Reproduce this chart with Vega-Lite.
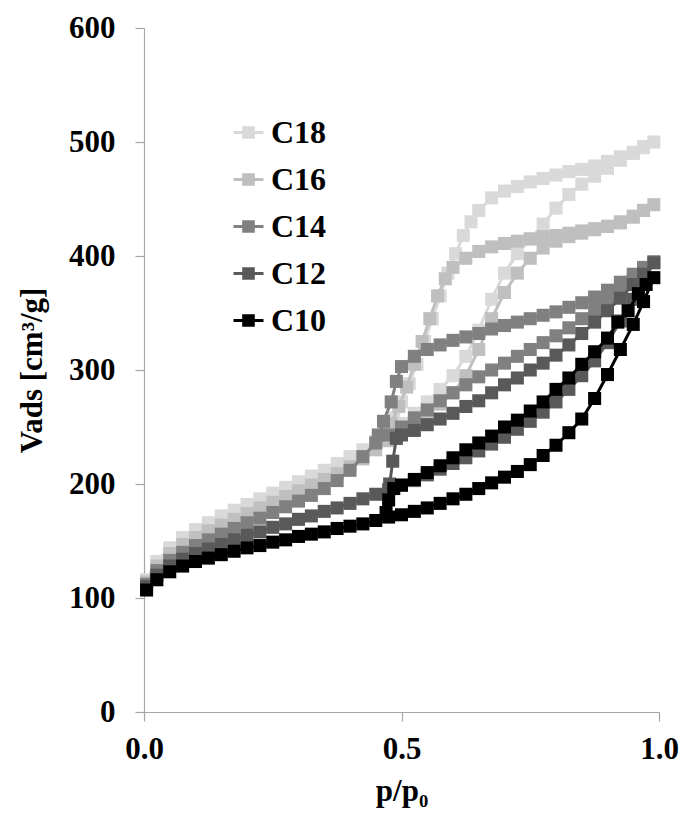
{
"$schema":"https://vega.github.io/schema/vega-lite/v6.json",
"width":515,"height":684,
"autosize":"none",
"padding":{"left":144,"top":28,"right":22,"bottom":104},
"background":"white",
"config":{"view":{"stroke":null},"font":"Liberation Serif",
"axis":{"grid":false,"domainColor":"#a6a6a6","tickColor":"#a6a6a6","domainWidth":1.2,"tickWidth":1.2,"tickSize":9,"labelFont":"Liberation Serif","labelFontWeight":"bold","labelFontSize":31,"labelColor":"black","titleFont":"Liberation Serif","titleFontWeight":"bold","titleFontSize":31,"titleColor":"black"}},
"datasets":{"d":[
{"s":"C10","i":0,"x":0.005,"y":107},{"s":"C10","i":1,"x":0.025,"y":116},{"s":"C10","i":2,"x":0.05,"y":123},{"s":"C10","i":3,"x":0.075,"y":128},{"s":"C10","i":4,"x":0.1,"y":132},{"s":"C10","i":5,"x":0.125,"y":135},{"s":"C10","i":6,"x":0.15,"y":138},{"s":"C10","i":7,"x":0.175,"y":141},{"s":"C10","i":8,"x":0.2,"y":144},{"s":"C10","i":9,"x":0.225,"y":146},{"s":"C10","i":10,"x":0.25,"y":149},{"s":"C10","i":11,"x":0.275,"y":151},{"s":"C10","i":12,"x":0.3,"y":154},{"s":"C10","i":13,"x":0.325,"y":156},{"s":"C10","i":14,"x":0.35,"y":158},{"s":"C10","i":15,"x":0.375,"y":161},{"s":"C10","i":16,"x":0.4,"y":163},{"s":"C10","i":17,"x":0.425,"y":165},{"s":"C10","i":18,"x":0.45,"y":168},{"s":"C10","i":19,"x":0.475,"y":171},{"s":"C10","i":20,"x":0.5,"y":173},{"s":"C10","i":21,"x":0.525,"y":176},{"s":"C10","i":22,"x":0.55,"y":179},{"s":"C10","i":23,"x":0.575,"y":183},{"s":"C10","i":24,"x":0.6,"y":187},{"s":"C10","i":25,"x":0.625,"y":191},{"s":"C10","i":26,"x":0.65,"y":196},{"s":"C10","i":27,"x":0.675,"y":201},{"s":"C10","i":28,"x":0.7,"y":206},{"s":"C10","i":29,"x":0.725,"y":211},{"s":"C10","i":30,"x":0.75,"y":217},{"s":"C10","i":31,"x":0.775,"y":225},{"s":"C10","i":32,"x":0.8,"y":234},{"s":"C10","i":33,"x":0.825,"y":245},{"s":"C10","i":34,"x":0.85,"y":257},{"s":"C10","i":35,"x":0.875,"y":275},{"s":"C10","i":36,"x":0.9,"y":296},{"s":"C10","i":37,"x":0.925,"y":318},{"s":"C10","i":38,"x":0.95,"y":340},{"s":"C10","i":39,"x":0.97,"y":360},{"s":"C10","i":40,"x":0.99,"y":381},
{"s":"C10","i":41,"x":0.975,"y":375},{"s":"C10","i":42,"x":0.96,"y":367},{"s":"C10","i":43,"x":0.94,"y":352},{"s":"C10","i":44,"x":0.92,"y":342},{"s":"C10","i":45,"x":0.9,"y":328},{"s":"C10","i":46,"x":0.875,"y":316},{"s":"C10","i":47,"x":0.85,"y":305},{"s":"C10","i":48,"x":0.825,"y":293},{"s":"C10","i":49,"x":0.8,"y":283},{"s":"C10","i":50,"x":0.775,"y":272},{"s":"C10","i":51,"x":0.75,"y":264},{"s":"C10","i":52,"x":0.725,"y":256},{"s":"C10","i":53,"x":0.7,"y":250},{"s":"C10","i":54,"x":0.675,"y":242},{"s":"C10","i":55,"x":0.65,"y":236},{"s":"C10","i":56,"x":0.625,"y":230},{"s":"C10","i":57,"x":0.6,"y":223},{"s":"C10","i":58,"x":0.575,"y":216},{"s":"C10","i":59,"x":0.55,"y":210},{"s":"C10","i":60,"x":0.525,"y":204},{"s":"C10","i":61,"x":0.5,"y":199},{"s":"C10","i":62,"x":0.485,"y":196},{"s":"C10","i":63,"x":0.475,"y":186},{"s":"C10","i":64,"x":0.47,"y":175},
{"s":"C12","i":0,"x":0.005,"y":110},{"s":"C12","i":1,"x":0.025,"y":120},{"s":"C12","i":2,"x":0.05,"y":128},{"s":"C12","i":3,"x":0.075,"y":134},{"s":"C12","i":4,"x":0.1,"y":139},{"s":"C12","i":5,"x":0.125,"y":143},{"s":"C12","i":6,"x":0.15,"y":147},{"s":"C12","i":7,"x":0.175,"y":151},{"s":"C12","i":8,"x":0.2,"y":155},{"s":"C12","i":9,"x":0.225,"y":158},{"s":"C12","i":10,"x":0.25,"y":162},{"s":"C12","i":11,"x":0.275,"y":165},{"s":"C12","i":12,"x":0.3,"y":169},{"s":"C12","i":13,"x":0.325,"y":172},{"s":"C12","i":14,"x":0.35,"y":176},{"s":"C12","i":15,"x":0.375,"y":179},{"s":"C12","i":16,"x":0.4,"y":183},{"s":"C12","i":17,"x":0.425,"y":187},{"s":"C12","i":18,"x":0.45,"y":191},{"s":"C12","i":19,"x":0.475,"y":195},{"s":"C12","i":20,"x":0.5,"y":199},{"s":"C12","i":21,"x":0.525,"y":203},{"s":"C12","i":22,"x":0.55,"y":208},{"s":"C12","i":23,"x":0.575,"y":213},{"s":"C12","i":24,"x":0.6,"y":218},{"s":"C12","i":25,"x":0.625,"y":223},{"s":"C12","i":26,"x":0.65,"y":229},{"s":"C12","i":27,"x":0.675,"y":235},{"s":"C12","i":28,"x":0.7,"y":241},{"s":"C12","i":29,"x":0.725,"y":248},{"s":"C12","i":30,"x":0.75,"y":255},{"s":"C12","i":31,"x":0.775,"y":263},{"s":"C12","i":32,"x":0.8,"y":272},{"s":"C12","i":33,"x":0.825,"y":283},{"s":"C12","i":34,"x":0.85,"y":295},{"s":"C12","i":35,"x":0.875,"y":308},{"s":"C12","i":36,"x":0.9,"y":324},{"s":"C12","i":37,"x":0.925,"y":343},{"s":"C12","i":38,"x":0.95,"y":362},{"s":"C12","i":39,"x":0.97,"y":378},{"s":"C12","i":40,"x":0.99,"y":394},
{"s":"C12","i":41,"x":0.97,"y":384},{"s":"C12","i":42,"x":0.95,"y":375},{"s":"C12","i":43,"x":0.925,"y":363},{"s":"C12","i":44,"x":0.9,"y":352},{"s":"C12","i":45,"x":0.875,"y":342},{"s":"C12","i":46,"x":0.85,"y":332},{"s":"C12","i":47,"x":0.825,"y":322},{"s":"C12","i":48,"x":0.8,"y":313},{"s":"C12","i":49,"x":0.775,"y":306},{"s":"C12","i":50,"x":0.75,"y":300},{"s":"C12","i":51,"x":0.725,"y":293},{"s":"C12","i":52,"x":0.7,"y":287},{"s":"C12","i":53,"x":0.675,"y":280},{"s":"C12","i":54,"x":0.65,"y":273},{"s":"C12","i":55,"x":0.625,"y":268},{"s":"C12","i":56,"x":0.6,"y":262},{"s":"C12","i":57,"x":0.575,"y":257},{"s":"C12","i":58,"x":0.55,"y":252},{"s":"C12","i":59,"x":0.525,"y":247},{"s":"C12","i":60,"x":0.5,"y":243},{"s":"C12","i":61,"x":0.49,"y":240},{"s":"C12","i":62,"x":0.483,"y":220},{"s":"C12","i":63,"x":0.477,"y":200},
{"s":"C14","i":0,"x":0.005,"y":112},{"s":"C14","i":1,"x":0.025,"y":124},{"s":"C14","i":2,"x":0.05,"y":133},{"s":"C14","i":3,"x":0.075,"y":140},{"s":"C14","i":4,"x":0.1,"y":146},{"s":"C14","i":5,"x":0.125,"y":151},{"s":"C14","i":6,"x":0.15,"y":156},{"s":"C14","i":7,"x":0.175,"y":161},{"s":"C14","i":8,"x":0.2,"y":166},{"s":"C14","i":9,"x":0.225,"y":170},{"s":"C14","i":10,"x":0.25,"y":175},{"s":"C14","i":11,"x":0.275,"y":180},{"s":"C14","i":12,"x":0.3,"y":185},{"s":"C14","i":13,"x":0.325,"y":190},{"s":"C14","i":14,"x":0.35,"y":196},{"s":"C14","i":15,"x":0.375,"y":203},{"s":"C14","i":16,"x":0.4,"y":212},{"s":"C14","i":17,"x":0.425,"y":224},{"s":"C14","i":18,"x":0.45,"y":236},{"s":"C14","i":19,"x":0.475,"y":243},{"s":"C14","i":20,"x":0.5,"y":250},{"s":"C14","i":21,"x":0.525,"y":258},{"s":"C14","i":22,"x":0.55,"y":265},{"s":"C14","i":23,"x":0.575,"y":273},{"s":"C14","i":24,"x":0.6,"y":280},{"s":"C14","i":25,"x":0.625,"y":287},{"s":"C14","i":26,"x":0.65,"y":294},{"s":"C14","i":27,"x":0.675,"y":300},{"s":"C14","i":28,"x":0.7,"y":306},{"s":"C14","i":29,"x":0.725,"y":312},{"s":"C14","i":30,"x":0.75,"y":318},{"s":"C14","i":31,"x":0.775,"y":324},{"s":"C14","i":32,"x":0.8,"y":330},{"s":"C14","i":33,"x":0.825,"y":337},{"s":"C14","i":34,"x":0.85,"y":345},{"s":"C14","i":35,"x":0.875,"y":353},{"s":"C14","i":36,"x":0.9,"y":361},{"s":"C14","i":37,"x":0.925,"y":370},{"s":"C14","i":38,"x":0.95,"y":379},{"s":"C14","i":39,"x":0.97,"y":387},{"s":"C14","i":40,"x":0.99,"y":395},
{"s":"C14","i":41,"x":0.97,"y":390},{"s":"C14","i":42,"x":0.95,"y":384},{"s":"C14","i":43,"x":0.925,"y":377},{"s":"C14","i":44,"x":0.9,"y":370},{"s":"C14","i":45,"x":0.875,"y":364},{"s":"C14","i":46,"x":0.85,"y":359},{"s":"C14","i":47,"x":0.825,"y":355},{"s":"C14","i":48,"x":0.8,"y":351},{"s":"C14","i":49,"x":0.775,"y":348},{"s":"C14","i":50,"x":0.75,"y":345},{"s":"C14","i":51,"x":0.725,"y":342},{"s":"C14","i":52,"x":0.7,"y":339},{"s":"C14","i":53,"x":0.675,"y":336},{"s":"C14","i":54,"x":0.65,"y":332},{"s":"C14","i":55,"x":0.625,"y":329},{"s":"C14","i":56,"x":0.6,"y":326},{"s":"C14","i":57,"x":0.575,"y":322},{"s":"C14","i":58,"x":0.55,"y":318},{"s":"C14","i":59,"x":0.525,"y":312},{"s":"C14","i":60,"x":0.5,"y":303},{"s":"C14","i":61,"x":0.49,"y":290},{"s":"C14","i":62,"x":0.48,"y":272},{"s":"C14","i":63,"x":0.465,"y":255},{"s":"C14","i":64,"x":0.455,"y":243},
{"s":"C16","i":0,"x":0.005,"y":114},{"s":"C16","i":1,"x":0.025,"y":128},{"s":"C16","i":2,"x":0.05,"y":139},{"s":"C16","i":3,"x":0.075,"y":147},{"s":"C16","i":4,"x":0.1,"y":153},{"s":"C16","i":5,"x":0.125,"y":159},{"s":"C16","i":6,"x":0.15,"y":164},{"s":"C16","i":7,"x":0.175,"y":169},{"s":"C16","i":8,"x":0.2,"y":174},{"s":"C16","i":9,"x":0.225,"y":179},{"s":"C16","i":10,"x":0.25,"y":184},{"s":"C16","i":11,"x":0.275,"y":189},{"s":"C16","i":12,"x":0.3,"y":194},{"s":"C16","i":13,"x":0.325,"y":199},{"s":"C16","i":14,"x":0.35,"y":204},{"s":"C16","i":15,"x":0.375,"y":209},{"s":"C16","i":16,"x":0.4,"y":215},{"s":"C16","i":17,"x":0.425,"y":222},{"s":"C16","i":18,"x":0.45,"y":230},{"s":"C16","i":19,"x":0.475,"y":238},{"s":"C16","i":20,"x":0.5,"y":246},{"s":"C16","i":21,"x":0.525,"y":254},{"s":"C16","i":22,"x":0.55,"y":262},{"s":"C16","i":23,"x":0.575,"y":270},{"s":"C16","i":24,"x":0.6,"y":280},{"s":"C16","i":25,"x":0.625,"y":295},{"s":"C16","i":26,"x":0.65,"y":318},{"s":"C16","i":27,"x":0.675,"y":345},{"s":"C16","i":28,"x":0.7,"y":368},{"s":"C16","i":29,"x":0.725,"y":385},{"s":"C16","i":30,"x":0.75,"y":398},{"s":"C16","i":31,"x":0.775,"y":407},{"s":"C16","i":32,"x":0.8,"y":413},{"s":"C16","i":33,"x":0.825,"y":417},{"s":"C16","i":34,"x":0.85,"y":420},{"s":"C16","i":35,"x":0.875,"y":423},{"s":"C16","i":36,"x":0.9,"y":426},{"s":"C16","i":37,"x":0.925,"y":430},{"s":"C16","i":38,"x":0.95,"y":435},{"s":"C16","i":39,"x":0.97,"y":440},{"s":"C16","i":40,"x":0.99,"y":445},
{"s":"C16","i":41,"x":0.97,"y":440},{"s":"C16","i":42,"x":0.95,"y":434},{"s":"C16","i":43,"x":0.925,"y":429},{"s":"C16","i":44,"x":0.9,"y":426},{"s":"C16","i":45,"x":0.875,"y":424},{"s":"C16","i":46,"x":0.85,"y":422},{"s":"C16","i":47,"x":0.825,"y":420},{"s":"C16","i":48,"x":0.8,"y":418},{"s":"C16","i":49,"x":0.775,"y":417},{"s":"C16","i":50,"x":0.75,"y":415},{"s":"C16","i":51,"x":0.725,"y":413},{"s":"C16","i":52,"x":0.7,"y":411},{"s":"C16","i":53,"x":0.675,"y":408},{"s":"C16","i":54,"x":0.65,"y":404},{"s":"C16","i":55,"x":0.625,"y":398},{"s":"C16","i":56,"x":0.6,"y":390},{"s":"C16","i":57,"x":0.585,"y":380},{"s":"C16","i":58,"x":0.57,"y":365},{"s":"C16","i":59,"x":0.555,"y":345},{"s":"C16","i":60,"x":0.54,"y":325},{"s":"C16","i":61,"x":0.525,"y":305},{"s":"C16","i":62,"x":0.51,"y":285},{"s":"C16","i":63,"x":0.495,"y":268},{"s":"C16","i":64,"x":0.48,"y":253},{"s":"C16","i":65,"x":0.465,"y":240},
{"s":"C18","i":0,"x":0.005,"y":116},{"s":"C18","i":1,"x":0.025,"y":132},{"s":"C18","i":2,"x":0.05,"y":144},{"s":"C18","i":3,"x":0.075,"y":153},{"s":"C18","i":4,"x":0.1,"y":160},{"s":"C18","i":5,"x":0.125,"y":166},{"s":"C18","i":6,"x":0.15,"y":172},{"s":"C18","i":7,"x":0.175,"y":177},{"s":"C18","i":8,"x":0.2,"y":182},{"s":"C18","i":9,"x":0.225,"y":187},{"s":"C18","i":10,"x":0.25,"y":192},{"s":"C18","i":11,"x":0.275,"y":197},{"s":"C18","i":12,"x":0.3,"y":202},{"s":"C18","i":13,"x":0.325,"y":207},{"s":"C18","i":14,"x":0.35,"y":212},{"s":"C18","i":15,"x":0.375,"y":218},{"s":"C18","i":16,"x":0.4,"y":224},{"s":"C18","i":17,"x":0.425,"y":230},{"s":"C18","i":18,"x":0.45,"y":237},{"s":"C18","i":19,"x":0.475,"y":245},{"s":"C18","i":20,"x":0.5,"y":253},{"s":"C18","i":21,"x":0.525,"y":262},{"s":"C18","i":22,"x":0.55,"y":272},{"s":"C18","i":23,"x":0.575,"y":283},{"s":"C18","i":24,"x":0.6,"y":295},{"s":"C18","i":25,"x":0.625,"y":312},{"s":"C18","i":26,"x":0.65,"y":335},{"s":"C18","i":27,"x":0.675,"y":362},{"s":"C18","i":28,"x":0.7,"y":385},{"s":"C18","i":29,"x":0.725,"y":402},{"s":"C18","i":30,"x":0.75,"y":415},{"s":"C18","i":31,"x":0.775,"y":428},{"s":"C18","i":32,"x":0.8,"y":442},{"s":"C18","i":33,"x":0.825,"y":454},{"s":"C18","i":34,"x":0.85,"y":463},{"s":"C18","i":35,"x":0.875,"y":470},{"s":"C18","i":36,"x":0.9,"y":477},{"s":"C18","i":37,"x":0.925,"y":484},{"s":"C18","i":38,"x":0.95,"y":490},{"s":"C18","i":39,"x":0.97,"y":495},{"s":"C18","i":40,"x":0.99,"y":500},
{"s":"C18","i":41,"x":0.97,"y":496},{"s":"C18","i":42,"x":0.95,"y":491},{"s":"C18","i":43,"x":0.925,"y":487},{"s":"C18","i":44,"x":0.9,"y":483},{"s":"C18","i":45,"x":0.875,"y":479},{"s":"C18","i":46,"x":0.85,"y":476},{"s":"C18","i":47,"x":0.825,"y":474},{"s":"C18","i":48,"x":0.8,"y":471},{"s":"C18","i":49,"x":0.775,"y":468},{"s":"C18","i":50,"x":0.75,"y":465},{"s":"C18","i":51,"x":0.725,"y":461},{"s":"C18","i":52,"x":0.7,"y":457},{"s":"C18","i":53,"x":0.675,"y":451},{"s":"C18","i":54,"x":0.65,"y":440},{"s":"C18","i":55,"x":0.635,"y":430},{"s":"C18","i":56,"x":0.62,"y":418},{"s":"C18","i":57,"x":0.605,"y":402},{"s":"C18","i":58,"x":0.59,"y":385},{"s":"C18","i":59,"x":0.575,"y":365},{"s":"C18","i":60,"x":0.56,"y":345},{"s":"C18","i":61,"x":0.545,"y":325},{"s":"C18","i":62,"x":0.53,"y":305},{"s":"C18","i":63,"x":0.515,"y":288},{"s":"C18","i":64,"x":0.5,"y":272},{"s":"C18","i":65,"x":0.485,"y":258},{"s":"C18","i":66,"x":0.47,"y":247},{"s":"C18","i":67,"x":0.455,"y":240}
]},
"data":{"name":"d"},
"encoding":{
"x":{"field":"x","type":"quantitative","scale":{"domain":[0,1]},"axis":{"values":[0,0.5,1],"format":".1f","title":"p/p₀","labelPadding":13,"titlePadding":12,"labelFlush":false}},
"y":{"field":"y","type":"quantitative","scale":{"domain":[0,600]},"axis":{"values":[0,100,200,300,400,500,600],"title":"Vads [cm³/g]","labelPadding":20,"titlePadding":20}},
"color":{"field":"s","type":"nominal","scale":{"domain":["C18","C16","C14","C12","C10"],"range":["#d9d9d9","#bfbfbf","#808080","#595959","#000000"]},
"legend":{"orient":"none","legendX":88,"legendY":88,"title":null,"padding":0,"symbolType":"M-1,0H1M-0.32,-0.32H0.32V0.32H-0.32Z","symbolSize":900,"symbolStrokeWidth":3,"labelFontSize":32,"labelFont":"Liberation Serif","labelFontWeight":"bold","labelColor":"black","rowPadding":14,"labelOffset":6,
"encode":{"symbols":{"update":{"fill":{"scale":"color","field":"value"},"stroke":{"scale":"color","field":"value"},"strokeWidth":{"value":3},"opacity":{"value":1}}}}}},
"order":{"field":"i","type":"quantitative"}
},
"layer":[
{"transform":[{"filter":"datum.s==='C18'"}],"mark":{"type":"line","strokeWidth":3,"point":{"shape":"square","size":170,"filled":true,"opacity":1}}},
{"transform":[{"filter":"datum.s==='C16'"}],"mark":{"type":"line","strokeWidth":3,"point":{"shape":"square","size":170,"filled":true,"opacity":1}}},
{"transform":[{"filter":"datum.s==='C14'"}],"mark":{"type":"line","strokeWidth":3,"point":{"shape":"square","size":170,"filled":true,"opacity":1}}},
{"transform":[{"filter":"datum.s==='C12'"}],"mark":{"type":"line","strokeWidth":3,"point":{"shape":"square","size":170,"filled":true,"opacity":1}}},
{"transform":[{"filter":"datum.s==='C10'"}],"mark":{"type":"line","strokeWidth":3,"point":{"shape":"square","size":170,"filled":true,"opacity":1}}}
]
}
